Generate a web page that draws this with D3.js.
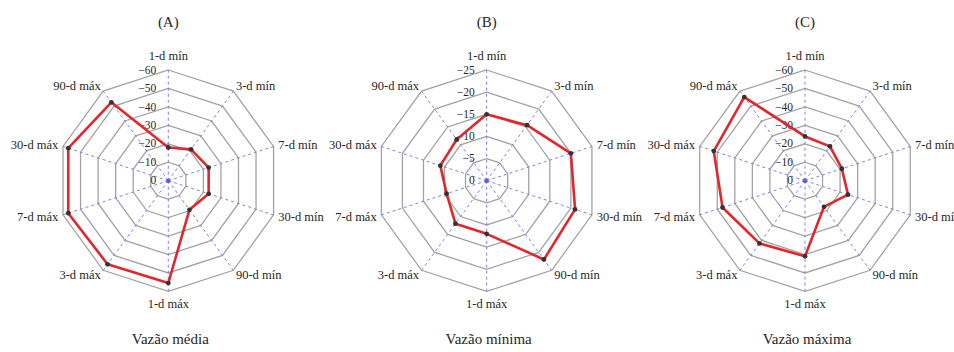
<!DOCTYPE html>
<html>
<head>
<meta charset="utf-8">
<script src="https://cdn.jsdelivr.net/npm/d3@7"></script>
<style>
  html, body { margin: 0; padding: 0; background: #fff; }
  svg { display: block; }
</style>
</head>
<body>
<svg id="chart" width="954" height="352"></svg>
<script>
// Axes of each radar, clockwise from the top
const categories = ["1-d mín", "3-d mín", "7-d mín", "30-d mín", "90-d mín",
                    "1-d máx", "3-d máx", "7-d máx", "30-d máx", "90-d máx"];

// Series values per panel
const mediaValues  = [-18, -21, -23, -23, -19.5, -55.5, -56, -57, -57, -52.5];
const minimaValues = [-15, -15.5, -20, -21, -22, -12, -12, -9.5, -11, -11.5];
const maximaValues = [-24, -23, -21, -24.5, -17.5, -41, -42, -47, -52, -56];

// Radial tick labels per panel
const ticksA = [0, -10, -20, -30, -40, -50, -60];
const ticksB = [0, -5, -10, -15, -20, -25];
const ticksC = [0, -10, -20, -30, -40, -50, -60];

const panelTitles = ["(A)", "(B)", "(C)"];
const captions = ["Vazão média", "Vazão mínima", "Vazão máxima"];

const panels = [
  { title: panelTitles[0], caption: captions[0], values: mediaValues,  ticks: ticksA },
  { title: panelTitles[1], caption: captions[1], values: minimaValues, ticks: ticksB },
  { title: panelTitles[2], caption: captions[2], values: maximaValues, ticks: ticksC }
];

const FONT = "'Liberation Serif', 'Times New Roman', serif";
const INK = "#262626";

const svg = d3.select("#chart");
const R = 110.7;
const cy = 180.7;
const centerX = d3.scalePoint().domain([0, 1, 2]).range([168.3, 805]);
const angle = d3.scalePoint().domain(categories).range([0, 2 * Math.PI * 9 / 10]);

function pt(a, r) {
  return [Math.sin(a) * r, -Math.cos(a) * r];
}

panels.forEach((p, i) => {
  const cx = centerX(i);
  const g = svg.append("g").attr("transform", `translate(${cx},${cy})`);
  const rMin = d3.min(p.ticks);
  const r = d3.scaleLinear().domain([0, rMin]).range([0, R]);

  // Polygon gridlines
  const ring = d3.line().curve(d3.curveLinearClosed);
  g.selectAll("path.grid")
    .data(p.ticks.filter(t => t !== 0))
    .join("path")
    .attr("class", "grid")
    .attr("d", t => ring(categories.map(c => pt(angle(c), r(t)))))
    .attr("fill", "none")
    .attr("stroke", "#a3a3a3")
    .attr("stroke-width", 1.3);

  // Dashed spokes
  g.selectAll("line.spoke")
    .data(categories)
    .join("line")
    .attr("class", "spoke")
    .attr("x1", 0).attr("y1", 0)
    .attr("x2", c => pt(angle(c), R)[0])
    .attr("y2", c => pt(angle(c), R)[1])
    .attr("stroke", "#7f7ff2")
    .attr("stroke-width", 1)
    .attr("stroke-dasharray", "3,3");

  g.append("circle").attr("r", 2.2).attr("fill", "#5a5af5");

  // Radial tick labels along the top spoke
  g.selectAll("text.tick")
    .data(p.ticks)
    .join("text")
    .attr("class", "tick")
    .attr("x", -12)
    .attr("y", t => -r(t) + 1)
    .attr("text-anchor", "end")
    .attr("dominant-baseline", "middle")
    .attr("font-family", FONT)
    .attr("fill", INK)
    .attr("font-size", 11.5)
    .text(t => d3.format("d")(t));

  // Category labels around the outer ring
  g.selectAll("text.cat")
    .data(categories)
    .join("text")
    .attr("class", "cat")
    .each(function (c) {
      const a = angle(c);
      const s = Math.sin(a), co = Math.cos(a);
      const [x, y] = pt(a, R + 6);
      const t = d3.select(this);
      if (Math.abs(s) < 0.01) {
        t.attr("x", x).attr("y", y + (co > 0 ? -7 : 8)).attr("text-anchor", "middle");
      } else {
        t.attr("x", x + (s > 0 ? -1 : 1)).attr("y", y + 1)
         .attr("text-anchor", s > 0 ? "start" : "end");
      }
    })
    .attr("dominant-baseline", "middle")
    .attr("font-family", FONT)
    .attr("fill", INK)
    .attr("font-size", 12.5)
    .text(c => c);

  // Data polygon
  const pts = p.values.map((v, k) => pt(angle(categories[k]), r(v)));
  g.append("path")
    .attr("d", ring(pts))
    .attr("fill", "none")
    .attr("stroke", "#e3262b")
    .attr("stroke-width", 2.6)
    .attr("stroke-linejoin", "round");

  g.selectAll("circle.mark")
    .data(pts)
    .join("circle")
    .attr("class", "mark")
    .attr("cx", d => d[0])
    .attr("cy", d => d[1])
    .attr("r", 2.4)
    .attr("fill", "#333");

  // Panel title and caption
  svg.append("text")
    .attr("x", cx).attr("y", 24)
    .attr("text-anchor", "middle").attr("dominant-baseline", "middle")
    .attr("font-family", FONT).attr("fill", INK)
    .attr("font-size", 15)
    .text(p.title);

  svg.append("text")
    .attr("x", cx + 2).attr("y", 341)
    .attr("text-anchor", "middle").attr("dominant-baseline", "middle")
    .attr("font-family", FONT).attr("fill", INK)
    .attr("font-size", 15)
    .text(p.caption);
});
</script>
</body>
</html>
